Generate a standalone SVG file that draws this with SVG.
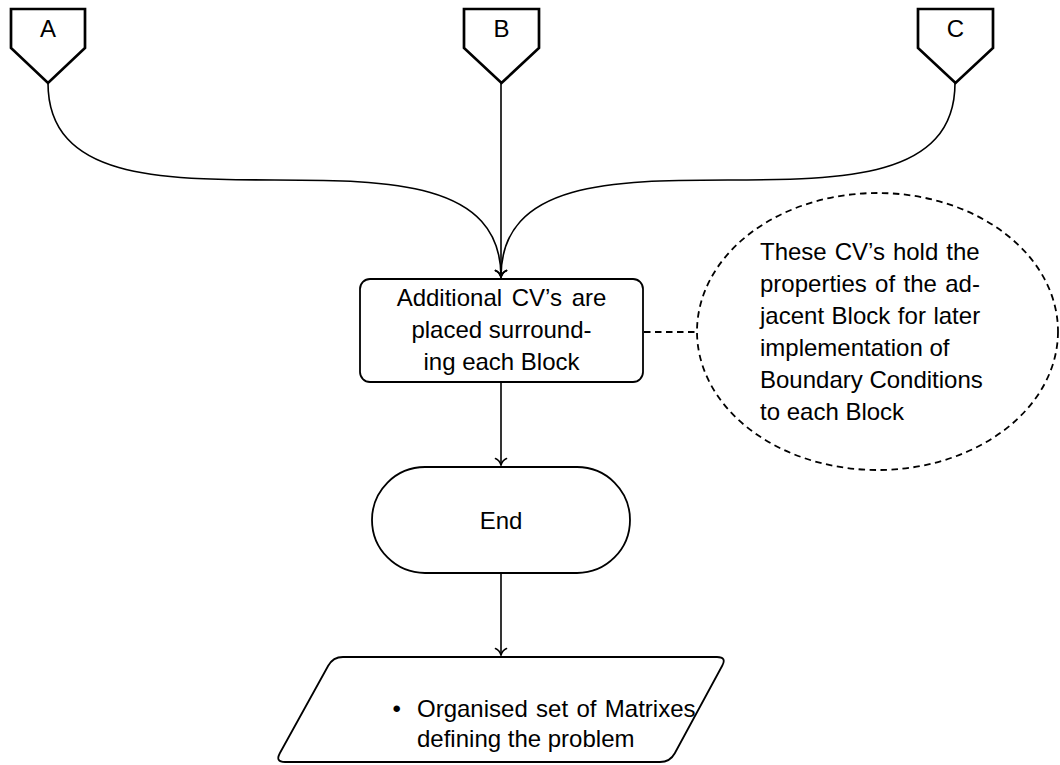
<svg xmlns="http://www.w3.org/2000/svg" width="1060" height="765" viewBox="0 0 1060 765">
  <style>
    text { font-family: "Liberation Sans", Arial, Helvetica, sans-serif; font-size: 24px; fill: #000; }
    .mid { text-anchor: middle; }
    .conn { fill: none; stroke: #000; stroke-width: 1.6; }
    .dash { fill: none; stroke: #000; stroke-width: 1.8; stroke-dasharray: 6.5 4.5; }
    .page { fill: #fff; stroke: #000; stroke-width: 2.7; stroke-linejoin: miter; }
    .box { fill: #fff; stroke: #000; stroke-width: 1.8; }
  </style>
  <defs>
    <marker id="arrow" markerUnits="userSpaceOnUse" markerWidth="14" markerHeight="14" viewBox="-8 -7 10 14" refX="0" refY="0" orient="auto">
      <path d="M-6.5,-5.5 C-5,-2 -2,-0.6 0,0 C-2,0.6 -5,2 -6.5,5.5" fill="none" stroke="#000" stroke-width="1.6" stroke-linecap="round"/>
    </marker>
  </defs>

  <rect width="1060" height="765" fill="#fff"/>

  <!-- connectors -->
  <g id="connectors">
    <path class="conn" d="M48,83 C48,276 501,84 501,277" marker-end="url(#arrow)"/>
    <path class="conn" d="M501,83 L501,277" marker-end="url(#arrow)"/>
    <path class="conn" d="M955,83 C955,276 501,84 501,277" marker-end="url(#arrow)"/>
    <path class="conn" d="M501,382 L501,465" marker-end="url(#arrow)"/>
    <path class="conn" d="M501,573 L501,655" marker-end="url(#arrow)"/>
    <path class="dash" d="M644,332 L697,332"/>
  </g>

  <!-- off-page references -->
  <g id="ref-a">
    <polygon class="page" points="11,9 85,9 85,48 48,83 11,48"/>
    <text class="mid" x="48" y="37">A</text>
  </g>
  <g id="ref-b">
    <polygon class="page" points="464,9 539,9 539,48 501.5,83 464,48"/>
    <text class="mid" x="501.5" y="37">B</text>
  </g>
  <g id="ref-c">
    <polygon class="page" points="918,9 993,9 993,48 955.5,83 918,48"/>
    <text class="mid" x="955.5" y="37">C</text>
  </g>

  <!-- process step -->
  <g id="place-cvs">
    <rect class="box" x="360" y="279" width="283" height="103" rx="10" ry="10"/>
    <text class="mid" x="501.5" y="306" word-spacing="3">Additional CV’s are</text>
    <text class="mid" x="501.5" y="338">placed surround-</text>
    <text class="mid" x="501.5" y="370">ing each Block</text>
  </g>

  <!-- annotation -->
  <g id="note">
    <ellipse class="dash" cx="877.5" cy="331.5" rx="180.5" ry="138.5"/>
    <text x="760" y="260" word-spacing="1.3">These CV’s hold the</text>
    <text x="760" y="292" word-spacing="1.7">properties of the ad-</text>
    <text x="760" y="324" word-spacing="0.9">jacent Block for later</text>
    <text x="760" y="356">implementation of</text>
    <text x="760" y="388">Boundary Conditions</text>
    <text x="760" y="420">to each Block</text>
  </g>

  <!-- terminator -->
  <g id="end">
    <rect class="box" x="372" y="467" width="258" height="106" rx="53" ry="53"/>
    <text class="mid" x="501" y="529">End</text>
  </g>

  <!-- output data -->
  <g id="output">
    <path class="box" d="M343,657 L717,657 Q727,657 722.2,665.8 L674.8,753.2 Q670,762 660,762 L285,762 Q275,762 279.8,753.2 L328.2,665.8 Q333,657 343,657 Z"/>
    <text x="392.5" y="717">•</text>
    <text x="417" y="717" word-spacing="1.7">Organised set of Matrixes</text>
    <text x="417" y="747">defining the problem</text>
  </g>
</svg>
